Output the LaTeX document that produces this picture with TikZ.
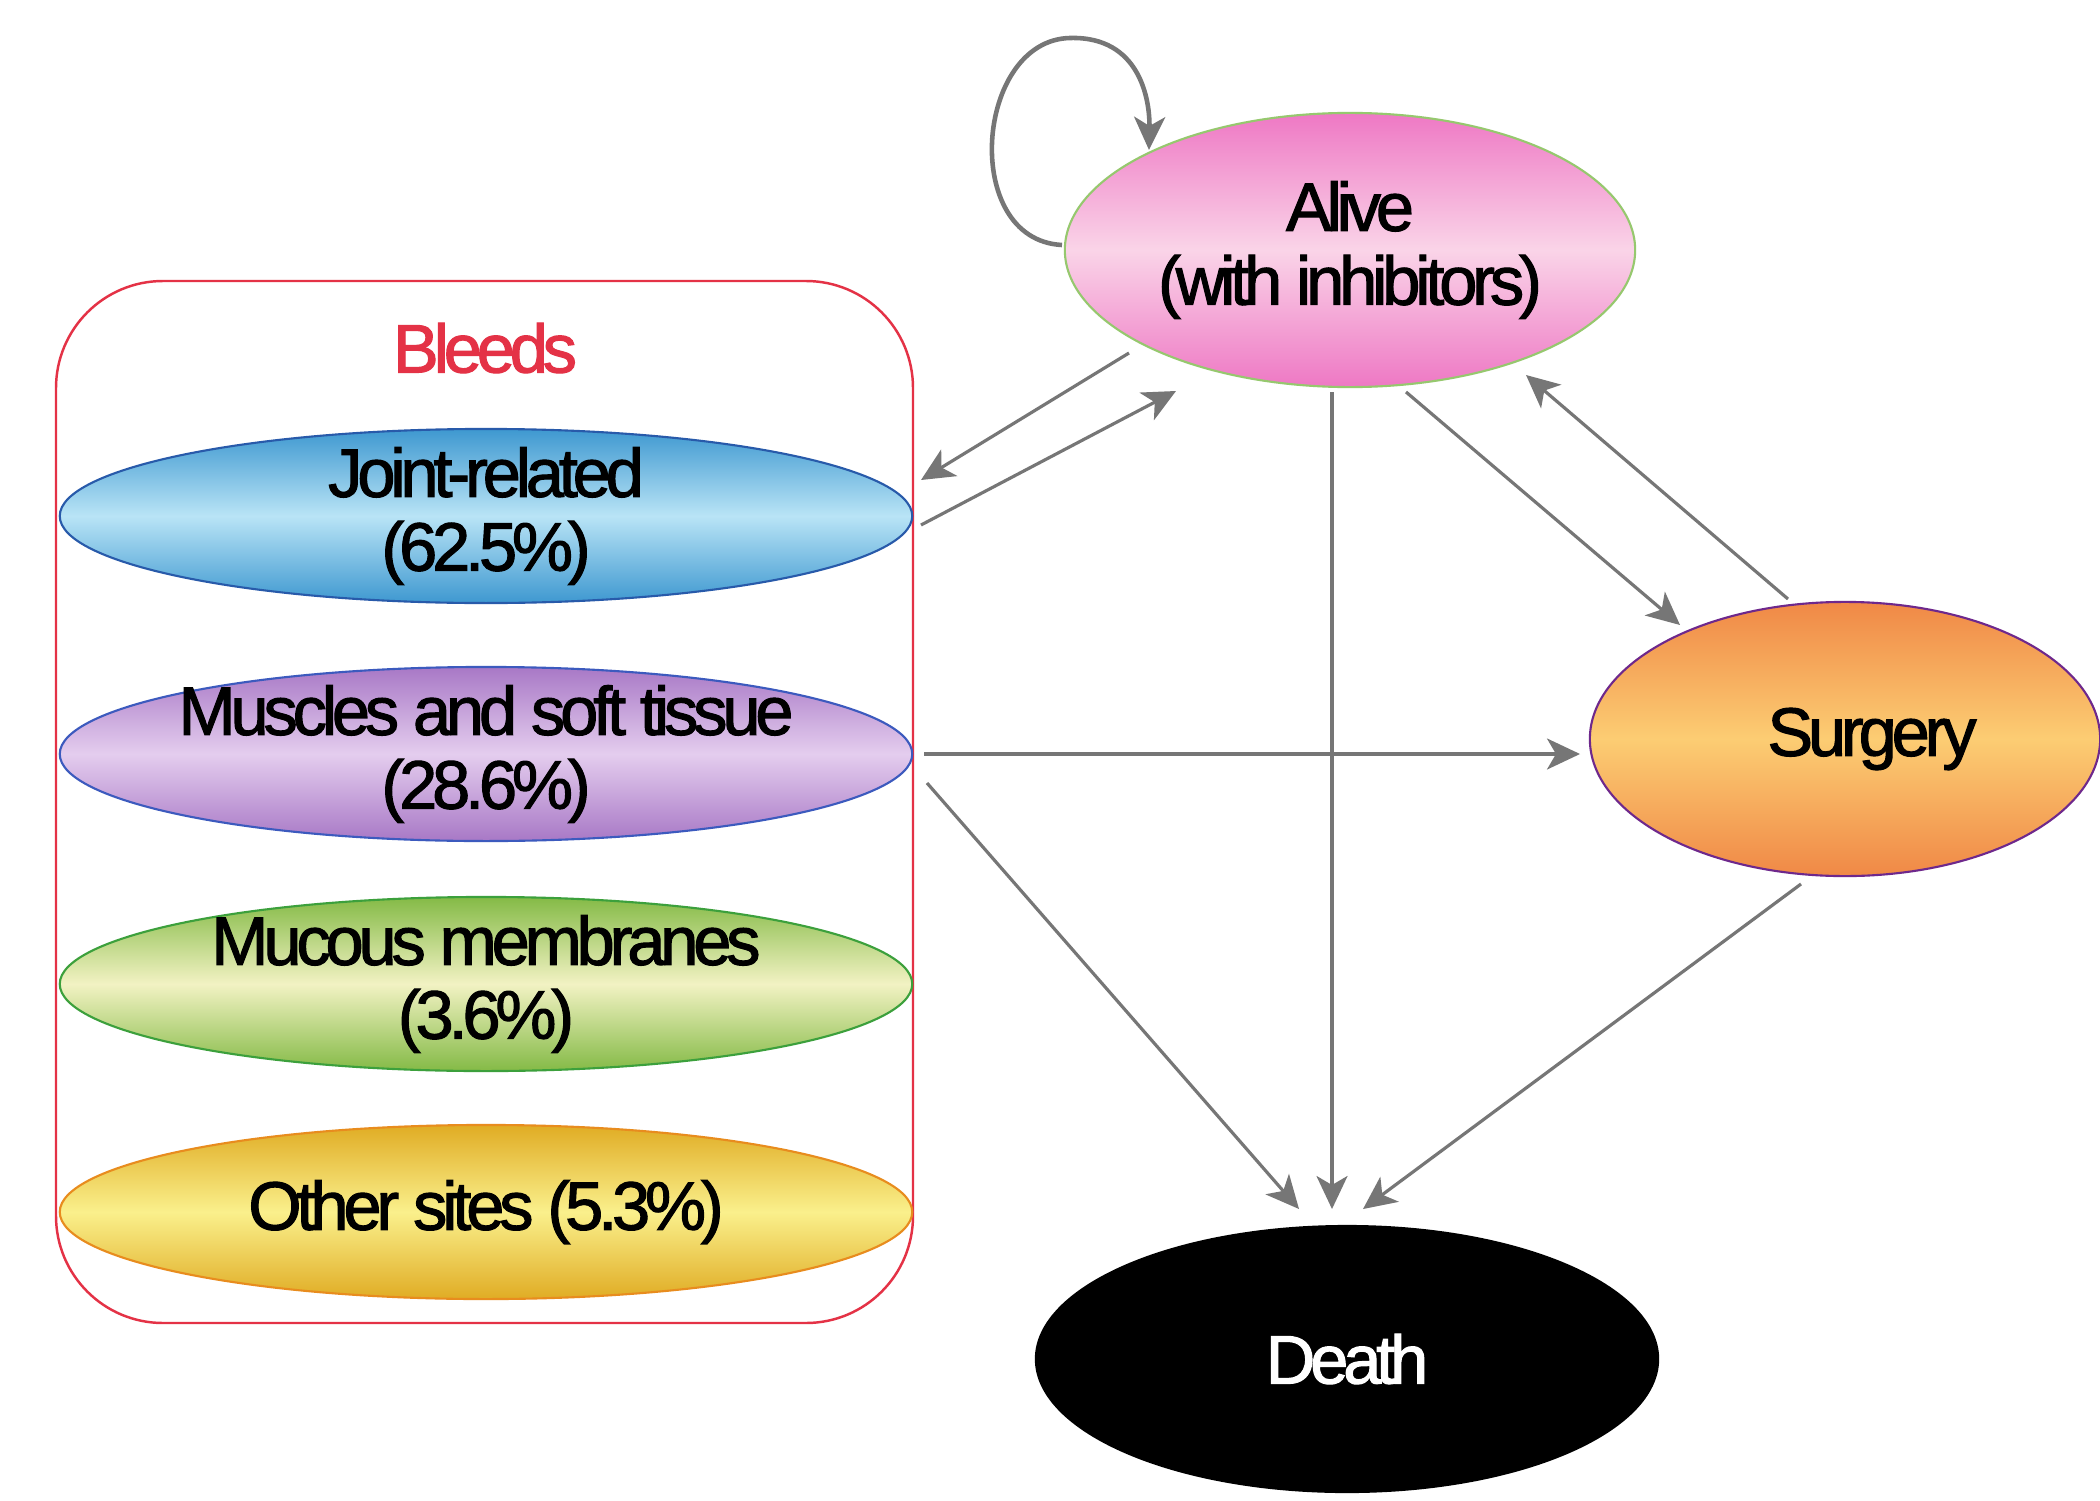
\documentclass[tikz,border=0pt]{standalone}
\usepackage{fontspec}
\setmainfont{Liberation Sans}[LetterSpace=-7.5,FakeBold=1.6]
\usetikzlibrary{shapes.geometric,arrows.meta,calc}
\definecolor{arrgray}{RGB}{118,118,118}
\definecolor{boxred}{RGB}{228,50,70}
\definecolor{pinkE}{RGB}{238,120,196}
\definecolor{pinkM}{RGB}{250,212,232}
\definecolor{blueE}{RGB}{62,152,208}
\definecolor{blueM}{RGB}{185,228,246}
\definecolor{purpE}{RGB}{168,120,198}
\definecolor{purpM}{RGB}{228,205,238}
\definecolor{greenE}{RGB}{132,186,70}
\definecolor{greenM}{RGB}{242,242,195}
\definecolor{goldE}{RGB}{224,172,36}
\definecolor{goldM}{RGB}{250,240,140}
\definecolor{orE}{RGB}{240,136,70}
\definecolor{orM}{RGB}{252,205,115}
\tikzset{
  state/.style={ellipse, inner xsep=-2cm, inner ysep=-1cm, align=center, line width=0.6pt,
    font=\fontsize{19.5}{21}\selectfont},
  arr/.style={draw=arrgray, line width=0.9pt, -{Stealth[length=0.33cm,width=0.31cm,inset=0.09cm]}},
}
\begin{document}
\begin{tikzpicture}[x=0.01cm, y=-0.01cm]
\useasboundingbox[fill=white] (0,0) rectangle (2100,1500);
% bleeds box
\draw[boxred, line width=0.7pt, rounded corners=1.07cm] (56,281) rectangle (913,1323);
\node[text=boxred, font=\fontsize{19.5}{21}\selectfont] (bleeds) at (485,348) {Bleeds};
% nodes
\node[state, draw={rgb,255:red,150;green,200;blue,110}, top color=pinkE, bottom color=pinkE, middle color=pinkM,
  minimum width=5.70cm, minimum height=2.74cm] (alive) at (1350,250) {Alive\\(with inhibitors)};
\node[state, draw={rgb,255:red,40;green,90;blue,170}, top color=blueE, bottom color=blueE, middle color=blueM,
  minimum width=8.52cm, minimum height=1.74cm] (joint) at (486,516) {Joint-related\\(62.5\%)};
\node[state, draw={rgb,255:red,60;green,90;blue,190}, top color=purpE, bottom color=purpE, middle color=purpM,
  minimum width=8.52cm, minimum height=1.74cm] (muscles) at (486,754) {Muscles and soft tissue\\(28.6\%)};
\node[state, draw={rgb,255:red,60;green,160;blue,60}, top color=greenE, bottom color=greenE, middle color=greenM,
  minimum width=8.52cm, minimum height=1.74cm] (mucous) at (486,984) {Mucous membranes\\(3.6\%)};
\node[state, draw={rgb,255:red,232;green,140;blue,30}, top color=goldE, bottom color=goldE, middle color=goldM,
  minimum width=8.52cm, minimum height=1.74cm] (other) at (486,1212) {Other sites (5.3\%)};
\node[state, draw={rgb,255:red,110;green,40;blue,140}, top color=orE, bottom color=orE, middle color=orM,
  minimum width=5.10cm, minimum height=2.74cm] (surgery) at (1845,739) {\kern0.54cm Surgery};
\node[state, fill=black, text=white, minimum width=6.24cm, minimum height=2.68cm] (death) at (1347,1359) {Death};
% connectors
\draw[arr] ($(alive)+(-221,103)$) -- ($(joint)+(435,-36)$);
\draw[arr] ($(joint)+(435,9)$) -- ($(alive)+(-174,141)$);
\draw[arr] ($(alive)+(-18,142)$) -- ($(death)+(-15,-150)$);
\draw[arr] ($(alive)+(56,142)$) -- ($(surgery)+(-165,-114)$);
\draw[arr] ($(surgery)+(-57,-140)$) -- ($(alive)+(176,125)$);
\draw[arr] ($(muscles)+(438,0)$) -- ($(surgery)+(-265,15)$);
\draw[arr] ($(muscles)+(441,29)$) -- ($(death)+(-48,-150)$);
\draw[arr] ($(surgery)+(-44,145)$) -- ($(death)+(16,-150)$);
% self loop
\coordinate (loopA) at ($(alive)+(-288,-5)$);
\coordinate (loopB) at ($(alive)+(-201,-100)$);
\draw[arr, line width=1.3pt] (loopA) .. controls (960,240) and (975,40) .. (1070,38)
  .. controls (1140,36) and (1150,100) .. (loopB);
\end{tikzpicture}
\end{document}
